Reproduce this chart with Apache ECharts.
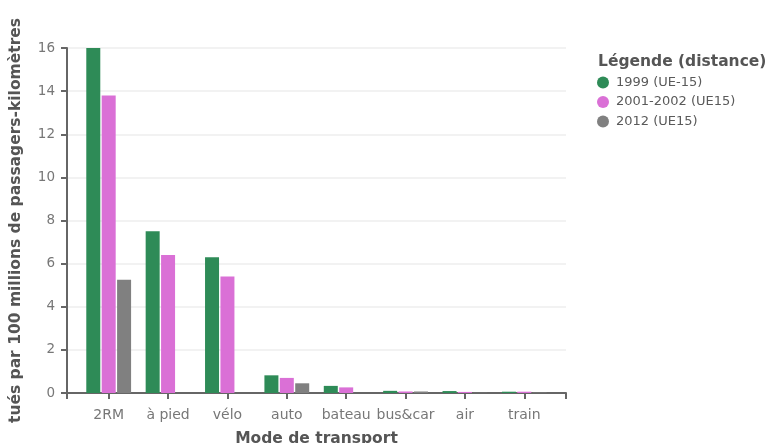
<!DOCTYPE html>
<html><head><meta charset="utf-8">
<script src="https://cdn.jsdelivr.net/npm/echarts@6/dist/echarts.min.js"></script>
<style>html,body{margin:0;padding:0;background:#fff}#c{width:769px;height:443px}</style>
</head><body><div id="c"></div>
<script>
const categories = ['2RM', 'à pied', 'vélo', 'auto', 'bateau', 'bus&car', 'air', 'train'];
const seriesNames = ['1999 (UE-15)', '2001-2002 (UE15)', '2012 (UE15)'];
const values1999 = [16, 7.5, 6.3, 0.82, 0.33, 0.1, 0.09, 0.06];
const values2001 = [13.8, 6.4, 5.4, 0.7, 0.26, 0.07, 0.05, 0.06];
const values2012 = [5.25, 0, 0, 0.45, 0, 0.07, 0.01, 0.02];
const yTicks = [0, 2, 4, 6, 8, 10, 12, 14, 16];
const colors = ['#2E8B57', '#DA70D6', '#808080'];

const font = 'DejaVu Sans';
const axisColor = '#666';
const chart = echarts.init(document.getElementById('c'));
chart.setOption({
  animation: false,
  color: colors,
  textStyle: { fontFamily: font },
  title: {
    text: 'Légende (distance)', left: 593, top: 49,
    textStyle: { fontFamily: font, fontWeight: 'bold', fontSize: 15.5, color: '#555' }
  },
  legend: {
    orient: 'vertical', left: 592, top: 71, icon: 'circle',
    itemWidth: 12, itemHeight: 12, itemGap: 6.5,
    textStyle: { fontFamily: font, fontSize: 13, color: '#5a5a5a', padding: [0, 0, 0, 2] },
    data: seriesNames
  },
  grid: [
    { left: 67, right: 203, top: 48, bottom: 50, outerBoundsMode: 'none', containLabel: false },
    { left: 79, right: 215, top: 48, bottom: 50, outerBoundsMode: 'none', containLabel: false }
  ],
  xAxis: [
    { type: 'value', gridIndex: 0, min: 0, max: 1, interval: 1,
      axisLine: { show: true, lineStyle: { color: axisColor, width: 2 } },
      axisTick: { show: true, length: 6, lineStyle: { color: axisColor, width: 2 } },
      axisLabel: { show: false }, splitLine: { show: false } },
    { type: 'category', gridIndex: 1, data: categories,
      name: 'Mode de transport', nameLocation: 'middle', nameGap: 38,
      nameTextStyle: { fontFamily: font, fontWeight: 'bold', fontSize: 15.5, color: '#555' },
      axisLine: { show: false },
      axisTick: { show: true, alignWithLabel: true, length: 6, lineStyle: { color: axisColor, width: 2 } },
      axisLabel: { interval: 0, fontFamily: font, fontSize: 14, color: '#777', margin: 15 } }
  ],
  yAxis: [
    { type: 'value', gridIndex: 0, min: 0, max: 16, interval: 2,
      name: 'tués par 100 millions de passagers-kilomètres', nameLocation: 'middle', nameGap: 43,
      nameTextStyle: { fontFamily: font, fontWeight: 'bold', fontSize: 15.5, color: '#555' },
      axisLine: { show: true, lineStyle: { color: axisColor, width: 2 } },
      axisTick: { show: true, length: 6, lineStyle: { color: axisColor, width: 2 } },
      axisLabel: { fontFamily: font, fontSize: 13.5, color: '#777', margin: 12 },
      splitLine: { show: true, lineStyle: { color: '#eee', width: 1.5 } } },
    { type: 'value', gridIndex: 1, min: 0, max: 16, interval: 2, show: false, splitLine: { show: false } }
  ],
  series: [
    { name: seriesNames[0], type: 'bar', xAxisIndex: 1, yAxisIndex: 1, data: values1999, barWidth: 14, barGap: '10%' },
    { name: seriesNames[1], type: 'bar', xAxisIndex: 1, yAxisIndex: 1, data: values2001, barWidth: 14, barGap: '10%' },
    { name: seriesNames[2], type: 'bar', xAxisIndex: 1, yAxisIndex: 1, data: values2012, barWidth: 14, barGap: '10%' }
  ]
});
</script></body></html>
